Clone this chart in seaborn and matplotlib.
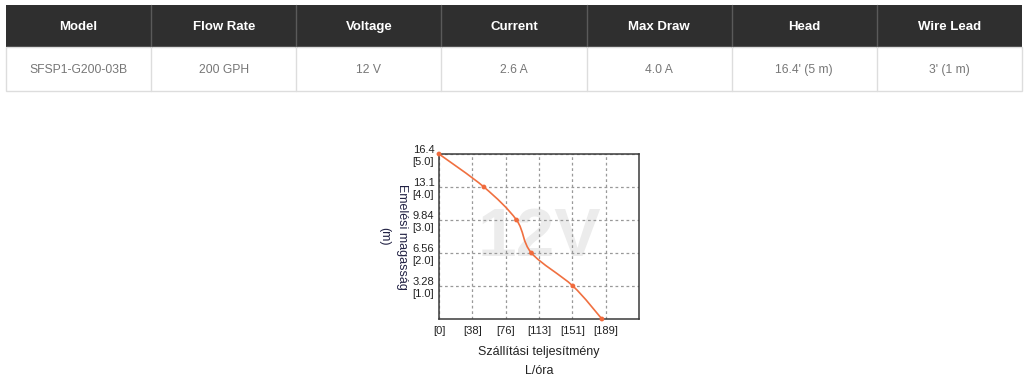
import numpy as np
import pandas as pd
import matplotlib
matplotlib.use("Agg")
import matplotlib.pyplot as plt
from matplotlib.patches import Rectangle, PathPatch
from matplotlib.path import Path
import seaborn as sns

# ---- data ----
table_headers = ["Model", "Flow Rate", "Voltage", "Current", "Max Draw", "Head", "Wire Lead"]
table_values = ["SFSP1-G200-03B", "200 GPH", "12 V", "2.6 A", "4.0 A", "16.4' (5 m)", "3' (1 m)"]

flow_lph = [0, 51, 88, 105, 152, 185]
head_m = [5.0, 4.0, 3.0, 2.0, 1.0, 0.0]

x_ticks = [0, 37.85, 75.7, 113.55, 151.4, 189.25]
x_ticklabels = ["[0]", "[38]", "[76]", "[113]", "[151]", "[189]"]
y_ticks = [1, 2, 3, 4, 5]
y_ticklabels = ["3.28\n[1.0]", "6.56\n[2.0]", "9.84\n[3.0]", "13.1\n[4.0]", "16.4\n[5.0]"]
x_max = 227.1
y_max = 5.0

sns.set_theme(style="white")
plt.rcParams["font.family"] = ["Liberation Sans", "DejaVu Sans"]

W, H = 1024, 384
fig = plt.figure(figsize=(W / 100, H / 100), dpi=100)
fig.patch.set_facecolor("white")

# ---- table in pixel coordinates ----
bg = fig.add_axes([0, 0, 1, 1])
bg.set_xlim(0, W)
bg.set_ylim(H, 0)
bg.axis("off")
x0, x1 = 6, 1022
top, mid, bot = 5, 47, 91
colw = (x1 - x0) / len(table_headers)
bg.add_patch(Rectangle((x0, top), x1 - x0, mid - top, facecolor="#2f2f2f", edgecolor="none"))
bg.add_patch(Rectangle((x0, mid), x1 - x0, bot - mid, facecolor="white", edgecolor="#dddddd", lw=1))
for i, (h, v) in enumerate(zip(table_headers, table_values)):
    cx = x0 + colw * (i + 0.5)
    bg.text(cx, (top + mid) / 2 + 1, h, ha="center", va="center", color="white",
            fontsize=9.5, fontweight="bold")
    bg.text(cx, (mid + bot) / 2 + 1, v, ha="center", va="center", color="#777777", fontsize=8.7)
    if i > 0:
        xb = x0 + colw * i
        bg.plot([xb, xb], [top, mid], color="#5a5a5a", lw=1)
        bg.plot([xb, xb], [mid, bot], color="#dddddd", lw=1)

# ---- chart ----
L, R, T, B = 439, 639, 154, 319
ax = fig.add_axes([L / W, (H - B) / H, (R - L) / W, (B - T) / H])
ax.set_facecolor("white")
ax.set_xlim(0, x_max)
ax.set_ylim(0, y_max)

ax.text(0.5, 0.49, "12V", transform=ax.transAxes, ha="center", va="center",
        fontsize=50, fontweight="bold", color="#ececec", zorder=0.1)

ax.set_xticks(x_ticks)
ax.set_xticklabels(x_ticklabels, fontsize=8, color="#222222")
ax.set_yticks(y_ticks)
ax.set_yticklabels(y_ticklabels, fontsize=8, color="#222222", ha="left", linespacing=1.25)
ax.tick_params(axis="y", length=0, pad=19)
ax.tick_params(axis="x", length=0, pad=5)
ax.grid(True, color="#999999", linestyle=(0, (2.2, 2.2)), lw=0.9)
ax.set_axisbelow(True)
for s in ax.spines.values():
    s.set_color("#3a3a3a")
    s.set_linewidth(1.1)

# smooth curve (Catmull-Rom rendered as cubic Bezier through the data points)
xs = np.array(flow_lph, dtype=float) / x_max
ys = np.array(head_m, dtype=float) / y_max
pts = np.column_stack([xs, ys])
n = len(pts)
verts = [pts[0]]
codes = [Path.MOVETO]
for i in range(n - 1):
    p0 = pts[i - 1] if i > 0 else pts[i]
    p1, p2 = pts[i], pts[i + 1]
    p3 = pts[i + 2] if i + 2 < n else pts[i + 1]
    c1 = p1 + (p2 - p0) / 6
    c2 = p2 - (p3 - p1) / 6
    verts += [c1, c2, p2]
    codes += [Path.CURVE4] * 3
verts = np.array(verts) * np.array([x_max, y_max])
ax.add_patch(PathPatch(Path(verts, codes), facecolor="none", edgecolor="#f07040", lw=1.2, zorder=3))

df = pd.DataFrame({"flow": flow_lph, "head": head_m})
sns.scatterplot(data=df, x="flow", y="head", ax=ax, color="#f06a3c", s=12, edgecolor="none",
                zorder=4, clip_on=False)

ax.set_xlabel("Szállítási teljesítmény\nL/óra", fontsize=9, color="#222222", linespacing=1.8, labelpad=7)
ax.set_ylabel("Emelési magasság\n(m)", fontsize=9, color="#222244", rotation=-90,
              linespacing=1.6, labelpad=14, va="center")

fig.savefig("out.png", dpi=100)
